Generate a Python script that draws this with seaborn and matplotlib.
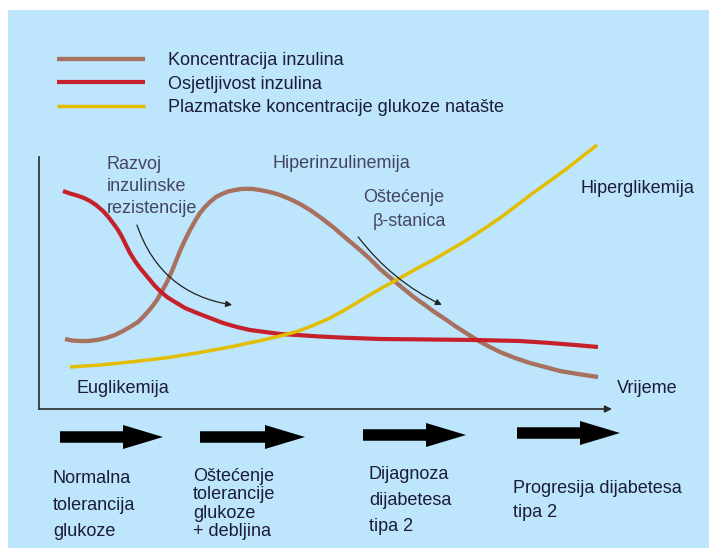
import matplotlib.pyplot as plt
import seaborn as sns
from matplotlib.patches import Rectangle, FancyArrow

# ── podaci (vrijeme 0-100, razina 0-100) ──
ins_x = [4.54, 5.76, 7.16, 8.55, 10.12, 11.69, 13.26, 14.66, 15.88, 17.28, 18.50, 19.55, 20.59,
         21.47, 22.34, 23.21, 23.91, 24.61, 25.48, 26.35, 27.23, 28.10, 28.97, 29.84, 30.89, 31.94,
         32.98, 34.21, 35.25, 36.30, 37.35, 38.57, 40.31, 42.06, 43.80, 45.55, 47.29, 49.04, 51.31,
         53.75, 56.02, 57.77, 59.51, 61.78, 63.87, 65.62, 67.36, 68.76, 70.86, 72.60, 74.52, 76.44,
         78.71, 80.45, 83.07, 85.69, 88.31, 90.92, 94.07, 97.56]
ins_y = [27.78, 27.18, 26.98, 26.98, 27.38, 28.17, 29.37, 30.95, 32.54, 34.52, 37.30, 40.08, 43.25,
         46.83, 50.40, 54.76, 58.73, 62.70, 67.06, 71.03, 74.60, 77.78, 80.16, 82.14, 84.13, 85.32,
         86.31, 86.90, 87.30, 87.38, 87.30, 86.90, 86.11, 84.92, 83.33, 81.35, 78.97, 76.19, 72.22,
         67.46, 63.10, 59.52, 55.56, 51.19, 47.22, 44.05, 41.27, 38.89, 35.71, 32.94, 30.16, 27.38,
         24.60, 22.62, 20.24, 18.25, 16.67, 15.08, 13.89, 12.70]

sens_x = [4.19, 5.41, 6.63, 7.85, 8.90, 9.95, 11.17, 12.04, 12.91, 13.79, 14.49, 15.18, 15.88,
          16.75, 17.63, 18.50, 19.37, 20.24, 21.12, 22.34, 23.73, 25.48, 27.57, 29.84, 32.11, 34.55,
          36.82, 39.44, 42.06, 45.03, 49.04, 52.53, 59.51, 68.24, 76.44, 83.94, 89.18, 93.54, 97.56]
sens_y = [86.51, 85.52, 84.72, 83.73, 82.54, 80.95, 78.57, 76.39, 73.81, 71.03, 68.25, 65.08, 61.90,
          58.73, 55.95, 53.57, 51.19, 48.81, 46.83, 44.44, 42.46, 40.08, 38.10, 36.11, 34.13, 32.54,
          31.35, 30.56, 29.76, 29.37, 28.77, 28.37, 27.78, 27.58, 27.38, 26.98, 26.19, 25.40, 24.60]

glu_x = [5.41, 10.65, 15.88, 21.99, 27.57, 33.33, 39.09, 42.06, 45.03, 47.82, 50.79, 52.88, 55.15,
         57.24, 59.51, 63.00, 65.79, 68.76, 71.73, 74.69, 77.49, 80.45, 83.25, 86.21, 89.01, 91.80,
         94.59, 97.38]
glu_y = [16.67, 17.46, 18.65, 20.24, 22.22, 24.60, 27.38, 28.97, 30.75, 33.13, 36.11, 38.69, 41.67,
         44.64, 47.62, 51.98, 55.56, 59.13, 63.10, 67.06, 71.23, 75.79, 80.56, 85.71, 90.28, 94.84,
         99.80, 104.76]

series_labels = ['Koncentracija inzulina', 'Osjetljivost inzulina',
                 'Plazmatske koncentracije glukoze natašte']
series_colors = ['#a8705f', '#c6202a', '#e3bd00']
series_widths = [3.1, 3.0, 2.5]

stage_labels = ['Normalna\ntolerancija\nglukoze',
                'Oštećenje\ntolerancije\nglukoze\n+ debljina',
                'Dijagnoza\ndijabetesa\ntipa 2',
                'Progresija dijabetesa\ntipa 2']

BG = '#bde5fc'
TXT = '#1c1c36'
NOTE = '#45455f'
W, H = 709, 548

sns.set_style('white')
plt.rcParams['font.family'] = ['Liberation Sans', 'DejaVu Sans']

fig = plt.figure(figsize=(W / 100, H / 100), dpi=100, facecolor='white')
fig.patches.append(Rectangle((8 / W, 0), 1 - 8 / W, 1 - 10 / H, transform=fig.transFigure,
                             facecolor=BG, edgecolor='none', zorder=-5))

# ── glavni graf ──
ax = fig.add_axes([39 / W, 1 - 409 / H, 573 / W, 269 / H])
ax.set_facecolor('none')
for xs, ys, lab, col, lw in zip([ins_x, sens_x, glu_x], [ins_y, sens_y, glu_y],
                                series_labels, series_colors, series_widths):
    sns.lineplot(x=xs, y=ys, color=col, lw=lw, label=lab, ax=ax, sort=False,
                 estimator=None, solid_capstyle='butt', solid_joinstyle='round')
ax.set_xlim(0, 100)
ax.set_ylim(0, 269 / 2.52)
ax.set_xticks([])
ax.set_yticks([])
for s in ['top', 'right', 'bottom']:
    ax.spines[s].set_visible(False)
ax.spines['left'].set_bounds(0, 100)
ax.spines['left'].set_color('#2a2a2a')
ax.spines['left'].set_linewidth(1.2)
ax.annotate('', xy=(1.0, 0), xytext=(0, 0), xycoords='axes fraction',
            arrowprops=dict(arrowstyle='-|>', color='#2a2a2a', lw=1.2,
                            mutation_scale=10, shrinkA=0, shrinkB=0))

# strelice uz opise
ax.annotate('', xy=(33.7, 41.3), xytext=(17.1, 73.0),
            arrowprops=dict(arrowstyle='-|>', connectionstyle='arc3,rad=0.3', color='#222222',
                            lw=0.9, mutation_scale=9, shrinkA=0, shrinkB=0))
ax.annotate('', xy=(70.3, 41.3), xytext=(55.7, 68.3),
            arrowprops=dict(arrowstyle='-|>', connectionstyle='arc3,rad=0.12', color='#222222',
                            lw=0.9, mutation_scale=9, shrinkA=0, shrinkB=0))

handles, labels = ax.get_legend_handles_labels()
ax.get_legend().remove()
fig.legend(handles, labels, loc='upper left', bbox_to_anchor=(57 / W, 1 - 52 / H),
           frameon=False, fontsize=13, handlelength=4.9, handletextpad=1.25,
           labelspacing=0.37, borderpad=0, borderaxespad=0, labelcolor=TXT)

# ── sloj za tekst i blok-strelice (pikselne koordinate) ──
ov = fig.add_axes([0, 0, 1, 1])
ov.set_xlim(0, W)
ov.set_ylim(H, 0)
ov.axis('off')


def put(x, y0, dy, txt, color=TXT, **kw):
    for i, s in enumerate(txt.split('\n')):
        ov.text(x, y0 + i * dy, s, va='baseline', ha='left', fontsize=13, color=color, **kw)


put(107, 169, 22, 'Razvoj\ninzulinske\nrezistencije', color=NOTE)
put(272, 168, 0, 'Hiperinzulinemija', color=NOTE)
put(363, 202, 0, 'Oštećenje', color=NOTE)
put(373, 226, 0, 'β-stanica', color=NOTE)
put(580, 193, 0, 'Hiperglikemija')
put(77, 393, 0, 'Euglikemija')
put(617, 393, 0, 'Vrijeme')

for (x0, x1, yc) in [(60, 163, 437), (200, 305, 437), (363, 466, 435), (517, 620, 433)]:
    ov.add_patch(FancyArrow(x0, yc, x1 - x0, 0, width=11.5, head_width=24, head_length=40,
                            length_includes_head=True, color='black', lw=0))

for (x, y0, dy), txt in zip([(53, 483, 26.5), (193, 481, 18.3), (369, 479, 26), (513, 493, 24)],
                            stage_labels):
    put(x, y0, dy, txt)

plt.savefig('out.png', dpi=100)
